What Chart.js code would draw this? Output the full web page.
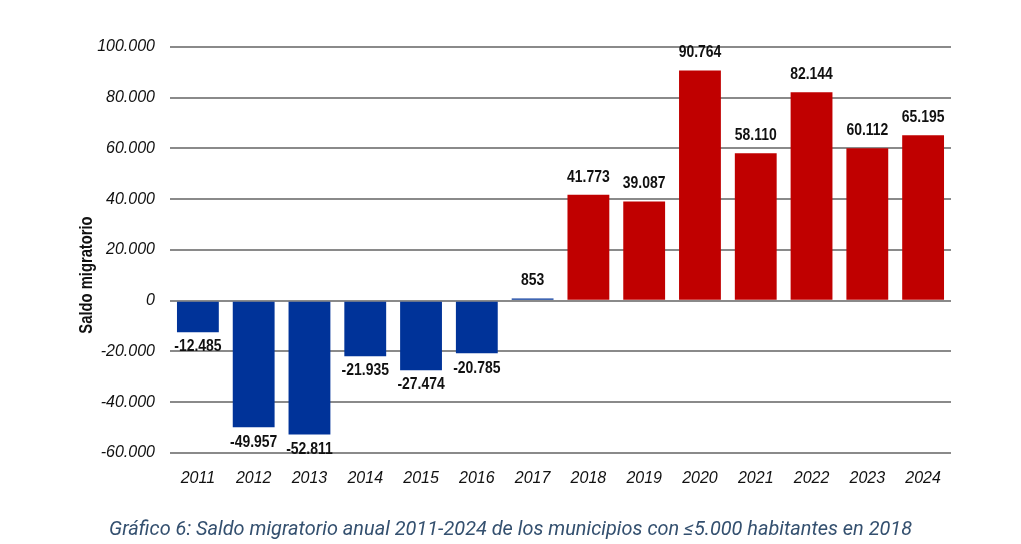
<!DOCTYPE html>
<html>
<head>
<meta charset="utf-8">
<script src="https://cdn.jsdelivr.net/npm/chart.js@4/dist/chart.umd.min.js"></script>
<style>
  body { margin: 0; background: #fff; }
  .wrap { position: relative; width: 1021px; height: 544px; }
  .caption {
    position: absolute; left: 0; width: 1021px; top: 516px;
    text-align: center; font-family: Roboto, sans-serif; font-style: italic;
    font-size: 20px; color: #34506f; transform: scaleX(0.995); transform-origin: 516px 0;
    white-space: nowrap;
  }
</style>
</head>
<body>
<div class="wrap">
  <canvas id="chart" width="1021" height="544"></canvas>
  <div class="caption">Gráfico 6: Saldo migratorio anual 2011-2024 de los municipios con ≤5.000 habitantes en 2018</div>
</div>
<script>
const years = ['2011', '2012', '2013', '2014', '2015', '2016', '2017', '2018', '2019', '2020', '2021', '2022', '2023', '2024'];
const saldo = [-12485, -49957, -52811, -21935, -27474, -20785, 853, 41773, 39087, 90764, 58110, 82144, 60112, 65195];
const yTicks = [-60000, -40000, -20000, 0, 20000, 40000, 60000, 80000, 100000];

const BLUE = '#003399';
const RED = '#c00000';
const FONT = '"Liberation Sans", Arial, sans-serif';
const NARROW = 0.82; // la fuente original es estrecha

const fmt = v => Math.abs(v).toString().replace(/\B(?=(\d{3})+(?!\d))/g, '.');
const fmtNum = v => (v < 0 ? '-' : '') + fmt(v);

function narrowText(ctx, text, x, y, angle) {
  ctx.save();
  ctx.translate(x, y);
  if (angle) ctx.rotate(angle);
  ctx.scale(NARROW, 1);
  ctx.fillText(text, 0, 0);
  ctx.restore();
}

// etiquetas de valor y titulo del eje Y
const valueLabels = {
  id: 'valueLabels',
  afterDatasetsDraw(chart) {
    const ctx = chart.ctx;
    const meta = chart.getDatasetMeta(0);
    ctx.save();
    ctx.font = 'bold 17px ' + FONT;
    ctx.fillStyle = '#111';
    ctx.textAlign = 'center';
    meta.data.forEach((bar, i) => {
      const v = saldo[i];
      if (v >= 0) {
        ctx.textBaseline = 'alphabetic';
        narrowText(ctx, fmtNum(v), bar.x, bar.y - 13);
      } else {
        ctx.textBaseline = 'top';
        narrowText(ctx, fmtNum(v), bar.x, bar.y + 6);
      }
    });
    ctx.font = 'bold 18px ' + FONT;
    ctx.textBaseline = 'middle';
    narrowText(ctx, 'Saldo migratorio', 87, 275, -Math.PI / 2);
    ctx.restore();
  }
};

new Chart(document.getElementById('chart'), {
  type: 'bar',
  data: {
    labels: years,
    datasets: [{
      data: saldo,
      backgroundColor: ctx => Number(years[ctx.dataIndex]) >= 2018 ? RED : BLUE,
      barPercentage: 0.75,
      categoryPercentage: 1
    }]
  },
  options: {
    responsive: false,
    animation: false,
    layout: { padding: { left: 74, right: 70, top: 47, bottom: 48 } },
    plugins: { legend: { display: false }, tooltip: { enabled: false } },
    scales: {
      x: {
        grid: { display: false },
        border: { display: false },
        ticks: { color: '#111', font: { family: FONT, size: 16, style: 'italic' }, padding: 8 }
      },
      y: {
        min: -60000,
        max: 100000,
        afterBuildTicks: s => { s.ticks = yTicks.map(v => ({ value: v })); },
        afterFit: s => { s.width = 96; },
        grid: { color: '#8a8a8a', lineWidth: 2, drawTicks: false },
        border: { display: false },
        ticks: { color: '#111', font: { family: FONT, size: 16, style: 'italic' }, padding: 15, callback: v => fmtNum(v) }
      }
    }
  },
  plugins: [valueLabels]
});
</script>
</body>
</html>
